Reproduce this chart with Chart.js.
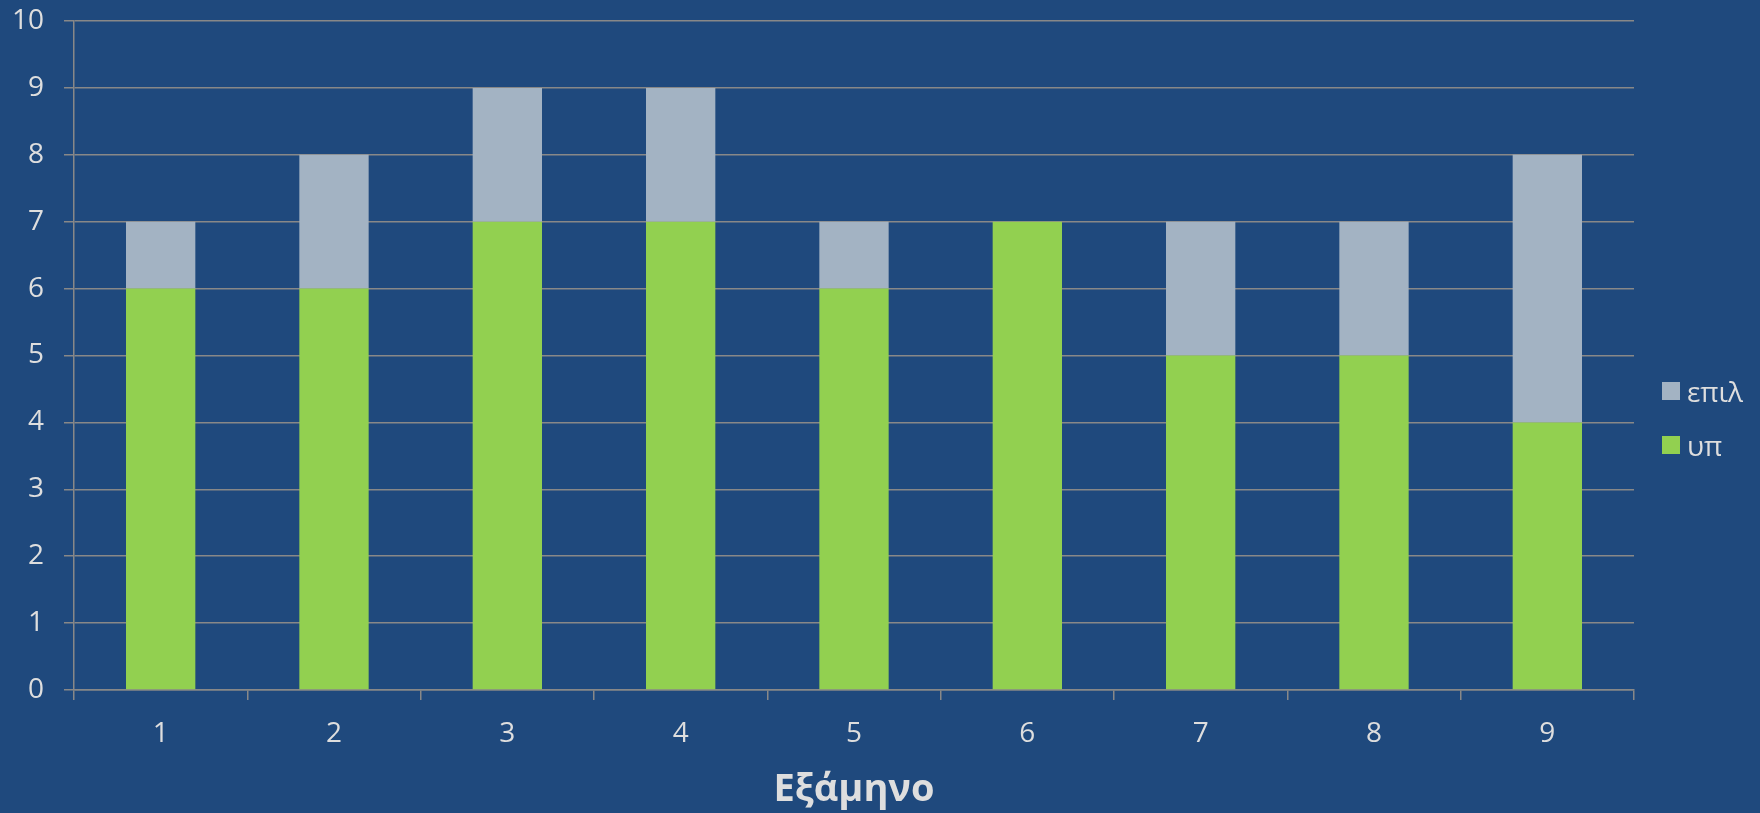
<!DOCTYPE html>
<html>
<head>
<meta charset="utf-8">
<script src="https://cdn.jsdelivr.net/npm/chart.js@4"></script>
<style>
    html, body { margin: 0; padding: 0; background: #1F497D; }
    #wrap { position: relative; width: 1760px; height: 813px; }
    .legend { position: absolute; left: 1662px; font-family: "Open Sans", sans-serif; font-size: 28px; color: #dedede; }
    .legend span.box { display: inline-block; width: 18px; height: 18px; margin-right: 7px; vertical-align: middle; }
    .legend span.lbl { vertical-align: middle; line-height: 30px; }
</style>
</head>
<body>
<div id="wrap">
    <canvas id="chart" width="1760" height="813"></canvas>
    <div class="legend" style="top:368px"><span class="box" style="background:#A3B3C3"></span><span class="lbl">επιλ</span></div>
    <div class="legend" style="top:422px"><span class="box" style="background:#92D050"></span><span class="lbl">υπ</span></div>
</div>
<script>
// ── DATA ──────────────────────────────────────────────────────
const semesters = ['1', '2', '3', '4', '5', '6', '7', '8', '9'];
const compulsory = [6, 6, 7, 7, 6, 7, 5, 5, 4];   // υπ
const elective   = [1, 2, 2, 2, 1, 0, 2, 2, 4];   // επιλ
const yTicks = [0, 1, 2, 3, 4, 5, 6, 7, 8, 9, 10];

const textColor = '#dedede';
const gridColor = '#888888';

new Chart(document.getElementById('chart'), {
    type: 'bar',
    data: {
        labels: semesters,
        datasets: [
            { label: 'υπ', data: compulsory, backgroundColor: '#92D050', barPercentage: 0.4, categoryPercentage: 1 },
            { label: 'επιλ', data: elective, backgroundColor: '#A3B3C3', barPercentage: 0.4, categoryPercentage: 1 }
        ]
    },
    options: {
        responsive: false,
        animation: false,
        layout: { padding: { top: 21, right: 126, bottom: 0, left: 0 } },
        plugins: { legend: { display: false }, tooltip: { enabled: false } },
        scales: {
            x: {
                stacked: true,
                afterFit: scale => { scale.height = 123; },
                grid: { drawOnChartArea: false, drawTicks: true, tickLength: 10, color: gridColor, lineWidth: 1.5 },
                border: { color: gridColor, width: 1.5 },
                ticks: { color: textColor, padding: 17, font: { family: 'Open Sans', size: 28 } },
                title: {
                    display: true, text: 'Εξάμηνο', color: textColor,
                    font: { family: 'Open Sans', size: 38, weight: 'bold' },
                    padding: { top: 0, bottom: 0 }
                }
            },
            y: {
                stacked: true,
                min: 0, max: 10,
                afterFit: scale => { scale.width = 74; scale.paddingTop = 0; scale.paddingBottom = 0; },
                afterBuildTicks: scale => { scale.ticks = yTicks.map(v => ({ value: v })); },
                grid: { color: gridColor, tickLength: 10, lineWidth: 1.5 },
                border: { color: gridColor, width: 1.5 },
                ticks: { color: textColor, padding: 20, font: { family: 'Open Sans', size: 28 } }
            }
        }
    }
});
</script>
</body>
</html>
